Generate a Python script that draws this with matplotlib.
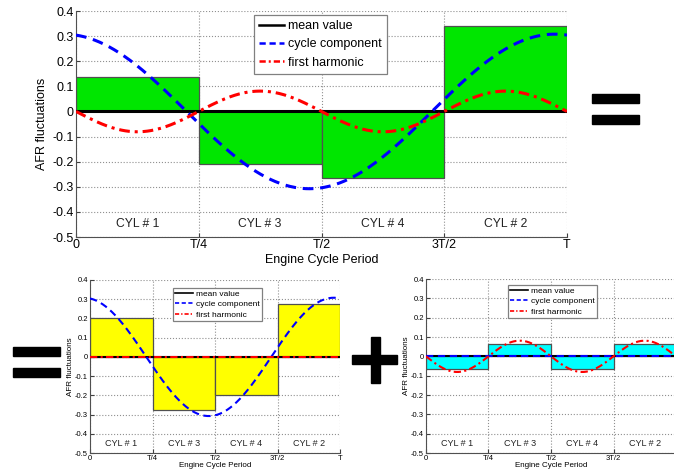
import numpy as np
import matplotlib
matplotlib.use('Agg')
import matplotlib.pyplot as plt
from matplotlib.patches import Rectangle
from matplotlib.lines import Line2D

plt.rcParams['font.family'] = ['Liberation Sans', 'DejaVu Sans']

# quarters of the engine cycle and the cylinder firing order
quarter_starts = [0, 0.25, 0.5, 0.75]
cylinders = ['CYL # 1', 'CYL # 3', 'CYL # 4', 'CYL # 2']
tick_pos = [0, 0.25, 0.5, 0.75, 1.0]
tick_labels = ['0', 'T/4', 'T/2', '3T/2', 'T']
y_ticks = [0.4, 0.3, 0.2, 0.1, 0, -0.1, -0.2, -0.3, -0.4, -0.5]
y_labels = ['0.4', '0.3', '0.2', '0.1', '0', '-0.1', '-0.2', '-0.3', '-0.4', '-0.5']

# per-cylinder AFR deviations
total_afr = [0.136, -0.211, -0.264, 0.339]
cycle_afr = [0.2, -0.275, -0.2, 0.275]
harmonic_afr = [-0.064, 0.064, -0.064, 0.064]

# mean value and Fourier coefficients (cos, sin of one period, sin of half period)
mean_value = 0.0
cycle_cos = 0.304
cycle_sin = -0.048
harmonic_sin = -0.081

t = np.linspace(0, 1, 400)
theta = 2 * np.pi * t
mean_line = np.full_like(t, mean_value)
cycle_line = cycle_cos * np.cos(theta) + cycle_sin * np.sin(theta)
harmonic_line = harmonic_sin * np.sin(2 * theta)
zero_line = np.zeros_like(t)

W, H = 674, 470
fig = plt.figure(figsize=(W / 100, H / 100), dpi=100)

DASH = (0, (3.5, 2.2))
DASHDOT = (0, (3.5, 1.6, 1, 1.6))


def px_axes(x0, y0, x1, y1):
    return fig.add_axes([x0 / W, 1 - y1 / H, (x1 - x0) / W, (y1 - y0) / H])


def draw_panel(ax, bars, color, cyc, harm, fs, lw, lab_fs, leg):
    leg_xy, leg_fs, leg_lw, hl, bp, ls = leg
    ax.bar(quarter_starts, bars, width=0.25, align='edge', color=color,
           edgecolor='#505050', linewidth=0.9, zorder=2)
    ax.plot(t, mean_line, color='black', lw=lw, zorder=3)
    ax.plot(t, cyc, color='blue', lw=lw, ls=DASH, zorder=4)
    ax.plot(t, harm, color='red', lw=lw, ls=DASHDOT, zorder=5)
    for x0, name in zip(quarter_starts, cylinders):
        ax.text(x0 + 0.125, -0.45, name, ha='center', va='center', fontsize=lab_fs, color='#222222')
    ax.set_xlim(0, 1)
    ax.set_ylim(-0.5, 0.4)
    ax.set_xticks(tick_pos)
    ax.set_xticklabels(tick_labels)
    ax.set_yticks(y_ticks)
    ax.set_yticklabels(y_labels)
    ax.tick_params(direction='in', labelsize=fs, length=3, color='#404040', pad=1.5)
    ax.grid(True, color='#909090', ls=':', lw=0.8)
    ax.set_axisbelow(True)
    for s in ['top', 'right']:
        ax.spines[s].set_visible(False)
    for s in ['left', 'bottom']:
        ax.spines[s].set_color('#505050')
    handles = [Line2D([], [], color='black', lw=leg_lw),
               Line2D([], [], color='blue', lw=leg_lw, ls=(0, (2.5, 1.5))),
               Line2D([], [], color='red', lw=leg_lw, ls=(0, (2.5, 1.2, 0.8, 1.2)))]
    lg = ax.legend(handles, ['mean value', 'cycle component', 'first harmonic'],
                   loc='upper left', bbox_to_anchor=leg_xy, borderaxespad=0,
                   fontsize=leg_fs, fancybox=False, framealpha=1, edgecolor='#808080',
                   handlelength=hl, borderpad=bp, labelspacing=ls, handletextpad=0.3)
    lg.get_frame().set_linewidth(0.9)


ax_top = px_axes(76, 11, 567, 237)
draw_panel(ax_top, total_afr, '#00e600', cycle_line, harmonic_line, 9, 2.2, 8.7,
           (((254 - 76) / 491, (237 - 15) / 226), 9, 1.8, 2.0, 0.4, 0.5))
ax_top.set_xlabel('Engine Cycle Period', fontsize=9, labelpad=2)
ax_top.set_ylabel('AFR fluctuations', fontsize=9, labelpad=3)

ax_bl = px_axes(90, 280, 340, 453)
draw_panel(ax_bl, cycle_afr, '#ffff00', cycle_line, zero_line, 5.5, 1.5, 6.5,
           (((173 - 90) / 250, (453 - 288) / 173), 6, 1.2, 2.2, 0.25, 0.3))

ax_br = px_axes(426, 279, 676, 453)
draw_panel(ax_br, harmonic_afr, '#00ffff', zero_line, harmonic_line, 5.5, 1.5, 6.5,
           (((508 - 426) / 250, (453 - 285) / 174), 6, 1.2, 2.2, 0.25, 0.3))

for ax in (ax_bl, ax_br):
    ax.set_xlabel('Engine Cycle Period', fontsize=5.8, labelpad=0)
    ax.set_ylabel('AFR fluctuations', fontsize=5.8, labelpad=1)

# equals and plus signs between panels
signs = [(592, 94, 639, 103), (592, 115, 639, 124),
         (13, 347, 60, 356), (13, 368, 60, 377),
         (352, 355, 397, 364), (371, 337, 380, 383)]
for x0, y0, x1, y1 in signs:
    fig.patches.append(Rectangle((x0 / W, 1 - y1 / H), (x1 - x0) / W, (y1 - y0) / H,
                                 transform=fig.transFigure, color='black'))

fig.savefig('out.png', dpi=100)
